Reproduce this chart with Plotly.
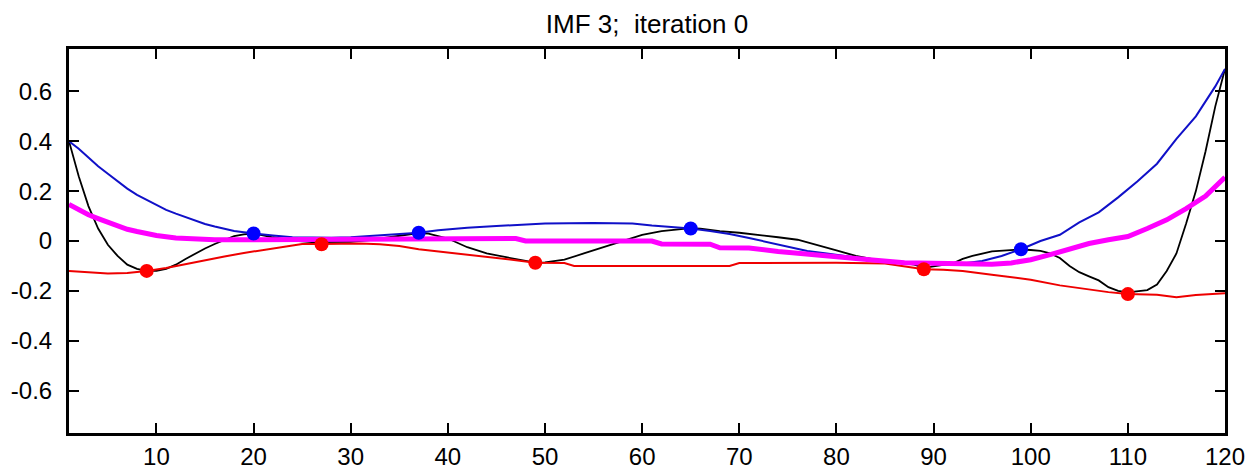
import plotly.graph_objects as go

# ---- data ----
sig_x = [1,2,3,4,5,6,7,8,9,10,11,12,13,14,15,16,17,18,19,20,22,24,26,28,30,32,34,36,37,38,40,42,44,46,48,49,50,52,54,56,58,60,62,64,65,66,68,70,72,74,76,78,80,82,84,86,88,89,90,91,92,93,94,96,98,99,100,101,102,103,104,105,106,107,108,109,110,111,112,113,114,115,116,117,118,119,120]
sig_y = [0.40,0.26,0.14,0.05,-0.015,-0.06,-0.095,-0.112,-0.12,-0.12,-0.112,-0.095,-0.072,-0.05,-0.03,-0.012,0.005,0.02,0.027,0.03,0.015,0.002,-0.004,-0.005,-0.003,0.004,0.015,0.027,0.032,0.03,0.01,-0.025,-0.05,-0.065,-0.08,-0.087,-0.086,-0.075,-0.05,-0.025,0.0,0.025,0.04,0.05,0.052,0.05,0.04,0.033,0.025,0.015,0.005,-0.015,-0.038,-0.06,-0.075,-0.083,-0.095,-0.108,-0.103,-0.097,-0.09,-0.072,-0.06,-0.042,-0.036,-0.034,-0.036,-0.04,-0.05,-0.068,-0.1,-0.125,-0.142,-0.158,-0.185,-0.2,-0.206,-0.203,-0.197,-0.175,-0.12,-0.05,0.07,0.2,0.36,0.54,0.69]

upper_x = [1,2,3,4,5,6,7,8,9,10,11,12,13,14,15,16,17,18,19,20,22,24,26,28,30,32,34,36,37,39,42,45,48,50,55,59,61,63,65,67,69,71,73,75,77,79,81,83,85,87,89,91,93,95,97,99,101,103,105,107,109,111,113,115,117,118,119,120]
upper_y = [0.40,0.37,0.335,0.30,0.27,0.24,0.21,0.185,0.165,0.145,0.125,0.11,0.095,0.08,0.068,0.058,0.048,0.04,0.035,0.03,0.022,0.015,0.013,0.013,0.015,0.02,0.026,0.031,0.033,0.043,0.053,0.06,0.066,0.07,0.072,0.07,0.062,0.057,0.05,0.04,0.028,0.012,-0.005,-0.02,-0.04,-0.05,-0.06,-0.073,-0.082,-0.088,-0.092,-0.094,-0.09,-0.08,-0.06,-0.033,0.0,0.025,0.075,0.115,0.175,0.24,0.31,0.41,0.50,0.56,0.62,0.69]

lower_x = [1,3,5,7,9,11,13,15,17,19,21,23,25,27,29,31,33,35,37,39,41,43,45,47,49,52,53,60,69,70,80,85,87,89,91,93,96,100,103,106,108,110,113,115,117,120]
lower_y = [-0.12,-0.126,-0.13,-0.128,-0.12,-0.108,-0.092,-0.077,-0.062,-0.048,-0.035,-0.022,-0.012,-0.012,-0.01,-0.01,-0.013,-0.02,-0.033,-0.042,-0.048,-0.057,-0.067,-0.077,-0.087,-0.088,-0.1,-0.1,-0.1,-0.088,-0.087,-0.09,-0.1,-0.113,-0.115,-0.12,-0.135,-0.155,-0.178,-0.195,-0.205,-0.213,-0.216,-0.226,-0.217,-0.21]

mean_x = [1,2,3,4,5,6,7,8,9,10,12,14,16,18,20,25,30,40,47,48,55,61,62,67,68,71,74,77,80,84,87,90,93,96,98,100,102,104,106,108,110,112,114,116,118,120]
mean_y = [0.147,0.125,0.105,0.09,0.075,0.06,0.047,0.038,0.03,0.022,0.012,0.007,0.005,0.005,0.005,0.008,0.01,0.01,0.01,0.0,0.0,0.0,-0.012,-0.013,-0.027,-0.028,-0.042,-0.053,-0.067,-0.077,-0.087,-0.09,-0.093,-0.093,-0.088,-0.075,-0.055,-0.03,-0.01,0.005,0.018,0.05,0.085,0.13,0.18,0.256]

max_x = [20, 37, 65, 99]
max_y = [0.03, 0.033, 0.05, -0.033]
min_x = [9, 27, 49, 89, 110]
min_y = [-0.12, -0.013, -0.087, -0.113, -0.213]

x_ticks = [10, 20, 30, 40, 50, 60, 70, 80, 90, 100, 110, 120]
y_ticks = [-0.6, -0.4, -0.2, 0, 0.2, 0.4, 0.6]
y_tick_text = ["-0.6", "-0.4", "-0.2", "0", "0.2", "0.4", "0.6"]
title_text = "IMF 3;&nbsp;&nbsp;iteration 0"

# ---- figure ----
fig = go.Figure()
fig.add_trace(go.Scatter(x=sig_x, y=sig_y, mode="lines",
                         line=dict(color="black", width=1.8)))
fig.add_trace(go.Scatter(x=lower_x, y=lower_y, mode="lines",
                         line=dict(color="#ee0000", width=2)))
fig.add_trace(go.Scatter(x=upper_x, y=upper_y, mode="lines",
                         line=dict(color="#1010c8", width=2)))
fig.add_trace(go.Scatter(x=mean_x, y=mean_y, mode="lines",
                         line=dict(color="#ff00ff", width=5)))
fig.add_trace(go.Scatter(x=max_x, y=max_y, mode="markers",
                         marker=dict(color="#0000ff", size=14)))
fig.add_trace(go.Scatter(x=min_x, y=min_y, mode="markers",
                         marker=dict(color="#ff0000", size=14)))

tick_font = dict(family="Liberation Sans, Arial, sans-serif", size=24, color="black")

# the page body adds an 8px offset, so the figure is 8px smaller in each direction
W, H = 1245, 464
fig.update_layout(
    width=W, height=H,
    margin=dict(l=61, r=28, t=41, b=39, autoexpand=False),
    paper_bgcolor="white", plot_bgcolor="white",
    showlegend=False,
    title=dict(text=title_text, x=0.5, xref="paper", y=1 - 16 / H, yref="container",
               xanchor="center", yanchor="middle",
               font=dict(family="Liberation Sans, Arial, sans-serif", size=26, color="black")),
    xaxis=dict(range=[1, 120], tickvals=x_ticks, ticks="inside", ticklen=10, tickwidth=2,
               tickcolor="black", showline=True, linecolor="black", linewidth=3,
               mirror="ticks", showgrid=False, zeroline=False, tickfont=tick_font,
               ticklabelstandoff=0, automargin=False),
    yaxis=dict(range=[-0.77, 0.77], tickvals=y_ticks, ticktext=y_tick_text, ticks="inside",
               ticklen=10, tickwidth=2, tickcolor="black", showline=True, linecolor="black",
               linewidth=3, mirror="ticks", showgrid=False, zeroline=False, tickfont=tick_font,
               ticklabelstandoff=9, automargin=False),
)

fig.write_html("out.html")
